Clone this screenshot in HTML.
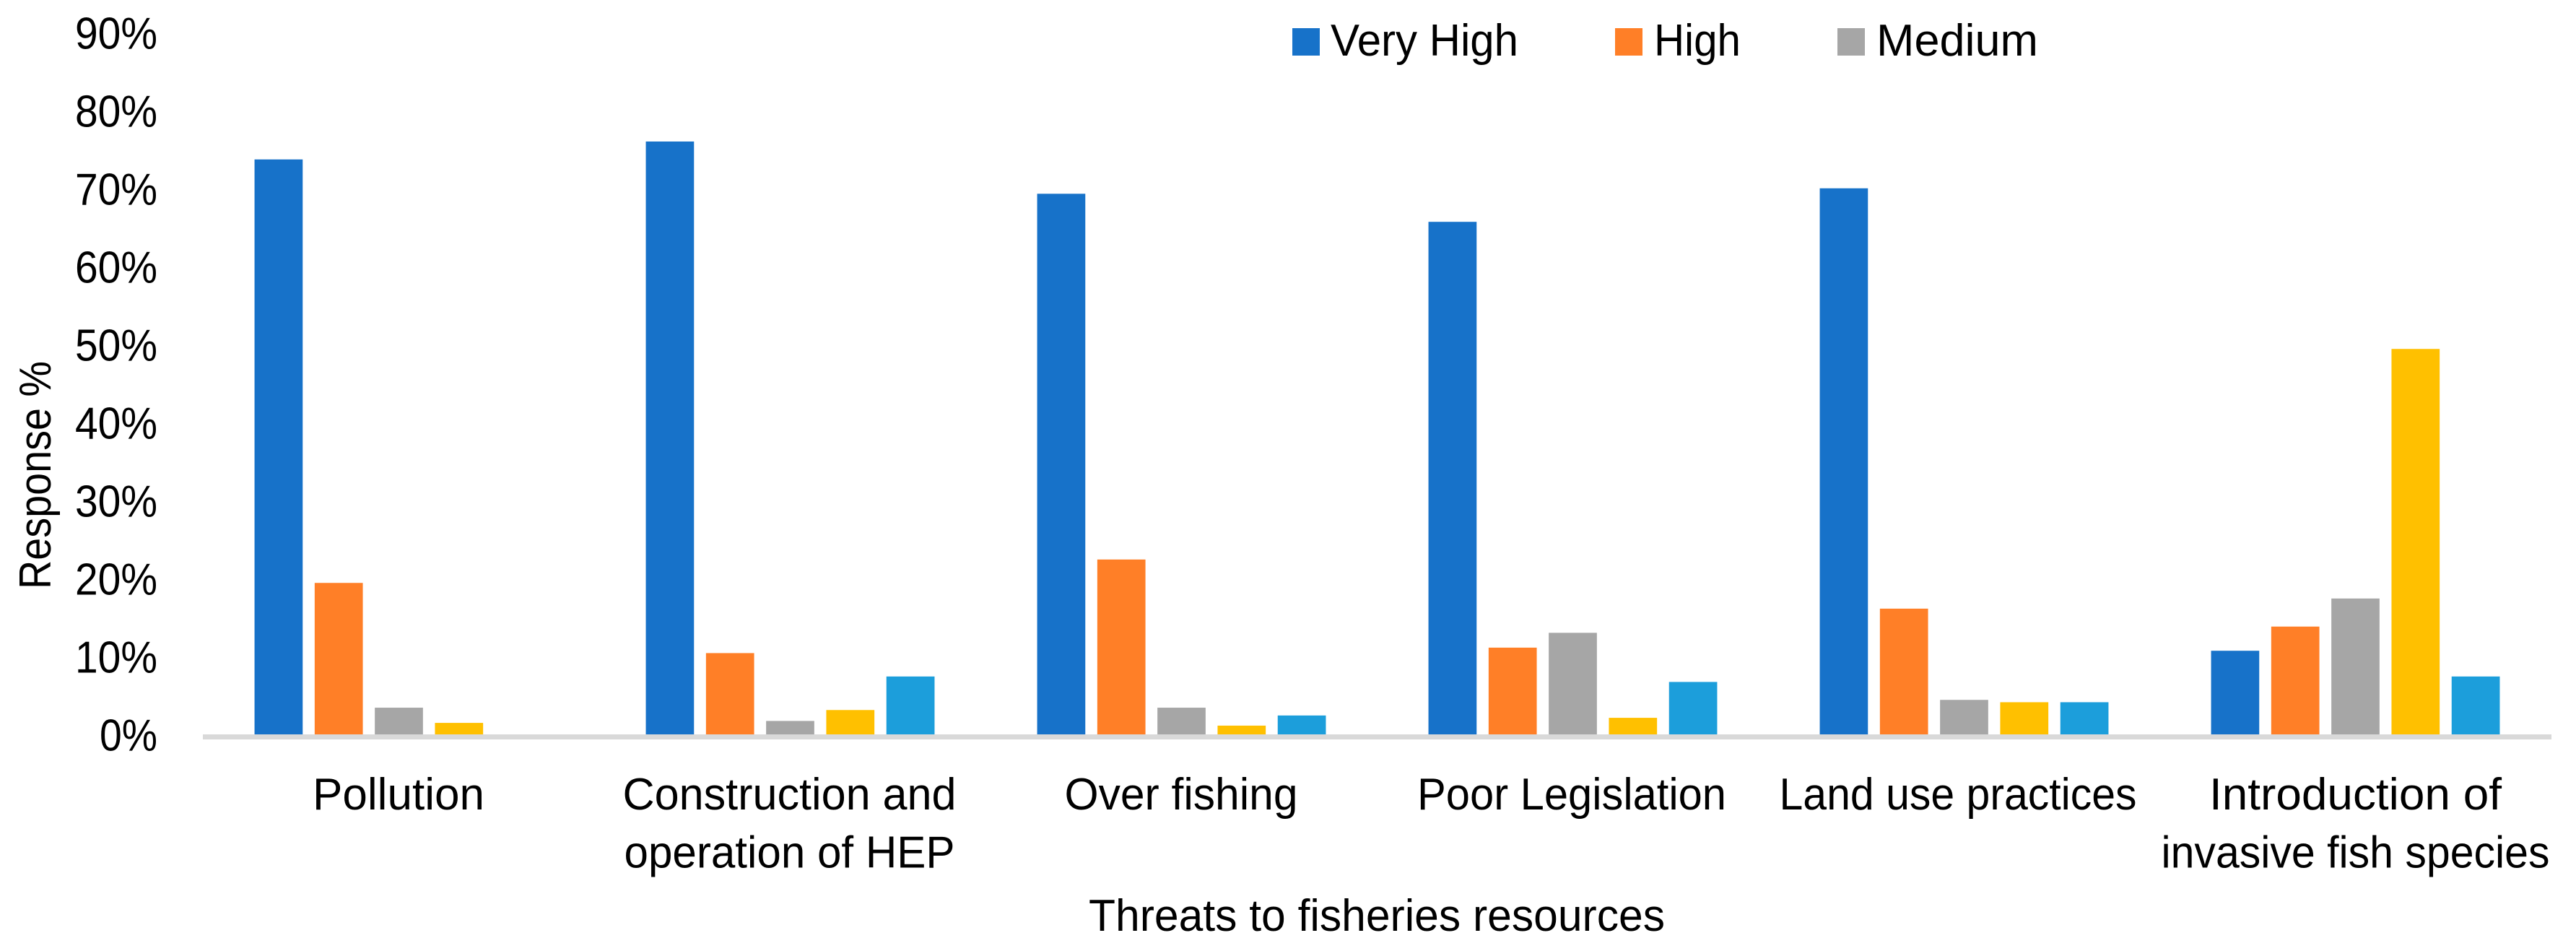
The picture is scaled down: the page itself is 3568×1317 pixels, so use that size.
<!DOCTYPE html>
<html lang="en">
<head>
<meta charset="utf-8">
<title>Threats to fisheries resources</title>
<style>
html,body{margin:0;padding:0;background:#fff;}
#chart{display:block;width:3568px;height:1317px;}
text{font-family:"Liberation Sans",sans-serif;fill:#000;font-size:62px;}
</style>
</head>
<body>
<svg id="chart" xmlns="http://www.w3.org/2000/svg" width="3568" height="1317" viewBox="0 0 3568 1317">
  <rect width="3568" height="1317" fill="#ffffff"/>
  <g id="y-ticks"></g>
  <g id="bars"></g>
  <rect x="281" y="1017" width="3253" height="7" fill="#d9d9d9"/>
  <g id="x-labels"></g>
  <g id="legend"></g>
  <text transform="translate(70 658) rotate(-90)" text-anchor="middle" textLength="316" lengthAdjust="spacingAndGlyphs">Response %</text>
  <text x="1907" y="1289" text-anchor="middle" textLength="798" lengthAdjust="spacingAndGlyphs">Threats to fisheries resources</text>
</svg>
<script>
const categories = [
  ["Pollution"],
  ["Construction and", "operation of HEP"],
  ["Over fishing"],
  ["Poor Legislation"],
  ["Land use practices"],
  ["Introduction of", "invasive fish species"]
];
const yTickValues = [0, 10, 20, 30, 40, 50, 60, 70, 80, 90];
const veryHigh = [74.0, 76.3, 69.6, 66.0, 70.3, 11.0];
const high = [19.7, 10.7, 22.7, 11.4, 16.4, 14.1];
const medium = [3.7, 2.0, 3.7, 13.3, 4.7, 17.7];
const seriesFour = [1.75, 3.4, 1.4, 2.4, 4.4, 49.7];
const seriesFive = [0, 7.7, 2.7, 7.0, 4.4, 7.7];
const legendLabels = ["Very High", "High", "Medium"];

const seriesList = [veryHigh, high, medium, seriesFour, seriesFive];
const seriesColors = ["#1772c9", "#ff7f27", "#a6a6a6", "#ffc000", "#1c9edb"];
const seriesKeys = ["very-high", "high", "medium", "series-4", "series-5"];
const labelWidths = {
  "Pollution": 238, "Construction and": 462, "operation of HEP": 458, "Over fishing": 323,
  "Poor Legislation": 428, "Land use practices": 495, "Introduction of": 405, "invasive fish species": 538
};
const labelNudges = [-0.5, -1, -0.5, -1.5, -8.5, 0];
const legendLayout = [
  {swatchX: 1790, textX: 1843, textW: 260},
  {swatchX: 2237, textX: 2291, textW: 120},
  {swatchX: 2545, textX: 2599, textW: 224}
];

const NS = "http://www.w3.org/2000/svg";
const plotLeft = 281.5, groupW = 542, barStep = 83.3, barW = 66.7;
const yZero = 1020, pxPerPercent = 10.8;
function yScale(v) { return yZero - v * pxPerPercent; }
function groupCenter(i) { return plotLeft + groupW * (i + 0.5); }
function barX(i, s) { return groupCenter(i) + (s - (seriesList.length - 1) / 2) * barStep - barW / 2; }

const tickGroup = document.getElementById("y-ticks");
yTickValues.forEach(function (v) {
  const label = v + "%";
  const t = document.createElementNS(NS, "text");
  
  
  t.setAttribute("x", 218);
  t.setAttribute("y", yScale(v) + 19.5);
  t.setAttribute("text-anchor", "end");
  t.setAttribute("textLength", label.length === 3 ? 114 : 80);
  t.setAttribute("lengthAdjust", "spacingAndGlyphs");
  t.textContent = label;
  tickGroup.appendChild(t);
});

const barGroup = document.getElementById("bars");
seriesList.forEach(function (values, s) {
  values.forEach(function (v, i) {
    const r = document.createElementNS(NS, "rect");
    
    
    r.setAttribute("data-series", seriesKeys[s]);
    r.setAttribute("x", barX(i, s));
    r.setAttribute("y", yScale(v));
    r.setAttribute("width", barW);
    r.setAttribute("height", Math.max(0, yZero - yScale(v)));
    r.setAttribute("fill", seriesColors[s]);
    barGroup.appendChild(r);
  });
});

const labelGroup = document.getElementById("x-labels");
categories.forEach(function (lines, i) {
  lines.forEach(function (line, n) {
    const t = document.createElementNS(NS, "text");
    
    
    t.setAttribute("x", groupCenter(i) + labelNudges[i]);
    t.setAttribute("y", 1121 + n * 80.5);
    t.setAttribute("text-anchor", "middle");
    t.setAttribute("textLength", labelWidths[line]);
    t.setAttribute("lengthAdjust", "spacingAndGlyphs");
    t.textContent = line;
    labelGroup.appendChild(t);
  });
});

const legendGroup = document.getElementById("legend");
legendLabels.forEach(function (name, s) {
  const box = document.createElementNS(NS, "rect");
  
  
  box.setAttribute("x", legendLayout[s].swatchX);
  box.setAttribute("y", 39);
  box.setAttribute("width", 38);
  box.setAttribute("height", 38);
  box.setAttribute("fill", seriesColors[s]);
  legendGroup.appendChild(box);
  const t = document.createElementNS(NS, "text");
  
  
  t.setAttribute("x", legendLayout[s].textX);
  t.setAttribute("y", 77);
  t.setAttribute("textLength", legendLayout[s].textW);
  t.setAttribute("lengthAdjust", "spacingAndGlyphs");
  t.textContent = name;
  legendGroup.appendChild(t);
});
</script>
</body>
</html>
